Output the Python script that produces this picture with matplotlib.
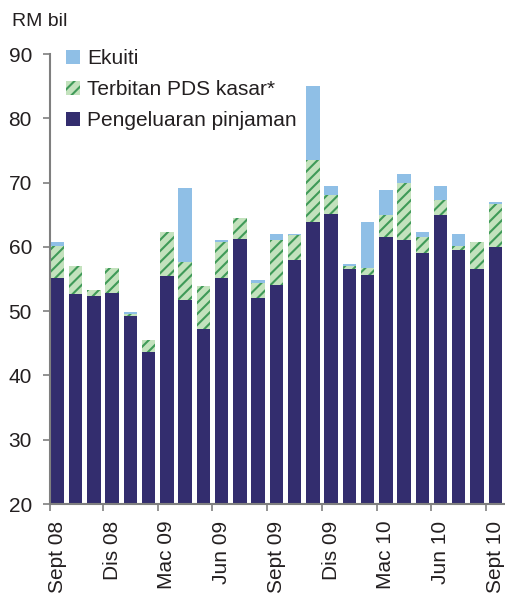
import matplotlib
matplotlib.use("Agg")
import matplotlib.pyplot as plt
import numpy as np

# ---- data (RM bil) ----
months = ["Sept 08", "Okt 08", "Nov 08", "Dis 08", "Jan 09", "Feb 09", "Mac 09", "Apr 09",
          "Mei 09", "Jun 09", "Jul 09", "Ogo 09", "Sept 09", "Okt 09", "Nov 09", "Dis 09",
          "Jan 10", "Feb 10", "Mac 10", "Apr 10", "Mei 10", "Jun 10", "Jul 10", "Ogo 10", "Sept 10"]
pinjaman = [55.1, 52.6, 52.3, 52.9, 49.2, 43.6, 55.4, 51.7, 47.2, 55.1, 61.2, 52.0, 54.1,
            57.9, 63.8, 65.1, 56.6, 55.7, 61.5, 61.0, 59.1, 64.9, 59.5, 56.5, 60.0]
pds = [5.0, 4.4, 1.0, 3.8, 0.3, 1.9, 6.9, 5.9, 6.7, 5.6, 3.3, 2.4, 7.0,
       3.9, 9.7, 3.0, 0.4, 1.0, 3.4, 9.0, 2.5, 2.4, 0.6, 4.2, 6.7]
ekuiti = [0.7, 0.0, 0.0, 0.0, 0.4, 0.0, 0.0, 11.5, 0.0, 0.4, 0.0, 0.4, 0.9,
          0.2, 11.5, 1.4, 0.3, 7.2, 3.9, 1.3, 0.7, 2.2, 1.9, 0.0, 0.3]
yticks = [20, 30, 40, 50, 60, 70, 80, 90]
label_every = 3

# ---- style ----
navy = "#332d6e"
blue = "#8fbfe6"
green_bg = "#c3e2bd"
green_hatch = "#3f9a58"
txt = "#231f20"
axis_col = "#7f7f7f"
fs = 15

plt.rcParams["font.family"] = ["Liberation Sans", "DejaVu Sans"]
plt.rcParams["hatch.linewidth"] = 1.5

fig = plt.figure(figsize=(5.05, 5.99), dpi=100)
ax = fig.add_axes([50 / 505, 1 - 504 / 599, 455 / 505, 450 / 599])

x = np.arange(len(months))
w = 0.73
p = np.array(pinjaman)
g = np.array(pds)
e = np.array(ekuiti)

ax.bar(x, p, width=w, color=navy, linewidth=0, label="Pengeluaran pinjaman", zorder=2)
ax.bar(x, g, width=w, bottom=p, facecolor=green_bg, edgecolor=green_hatch, hatch="///",
       linewidth=0, label="Terbitan PDS kasar*", zorder=2)
ax.bar(x, e, width=w, bottom=p + g, color=blue, linewidth=0, label="Ekuiti", zorder=2)

ax.set_ylim(20, 90)
ax.set_xlim(-0.405, len(months) - 1 + 0.53)
ax.set_yticks(yticks)
ax.set_yticklabels([str(v) for v in yticks], fontsize=fs, color=txt)

# x ticks at category boundaries, labels at bar centres
lab_idx = list(range(0, len(months), label_every))
major = [-0.405] + [i - 0.5 for i in lab_idx[1:]]
ax.set_xticks(major)
ax.set_xticklabels([""] * len(major))
ax.set_xticks(lab_idx, minor=True)
ax.set_xticklabels([months[i] for i in lab_idx], minor=True, rotation=90,
                   fontsize=fs, color=txt, va="top", ha="center")
ax.tick_params(axis="x", which="minor", length=0, pad=12)
ax.tick_params(axis="x", which="major", length=5, width=1.2, color=axis_col, direction="out")
ax.tick_params(axis="y", length=5, width=1.2, color=axis_col, direction="out", pad=8)

for s in ["top", "right"]:
    ax.spines[s].set_visible(False)
for s in ["left", "bottom"]:
    ax.spines[s].set_color(axis_col)
    ax.spines[s].set_linewidth(1.5)

handles, labels = ax.get_legend_handles_labels()
order = [2, 1, 0]
leg = fig.legend([handles[i] for i in order], [labels[i] for i in order],
                 loc="upper left", bbox_to_anchor=(66 / 505, 1 - 49 / 599),
                 frameon=False, fontsize=fs, handlelength=0.68, handleheight=0.68,
                 handletextpad=0.35, labelspacing=0.58, borderpad=0, borderaxespad=0)
for t in leg.get_texts():
    t.set_color(txt)

fig.text(12 / 505, 1 - 26 / 599, "RM bil", fontsize=14, color=txt, ha="left", va="baseline")

fig.savefig("out.png", dpi=100)
